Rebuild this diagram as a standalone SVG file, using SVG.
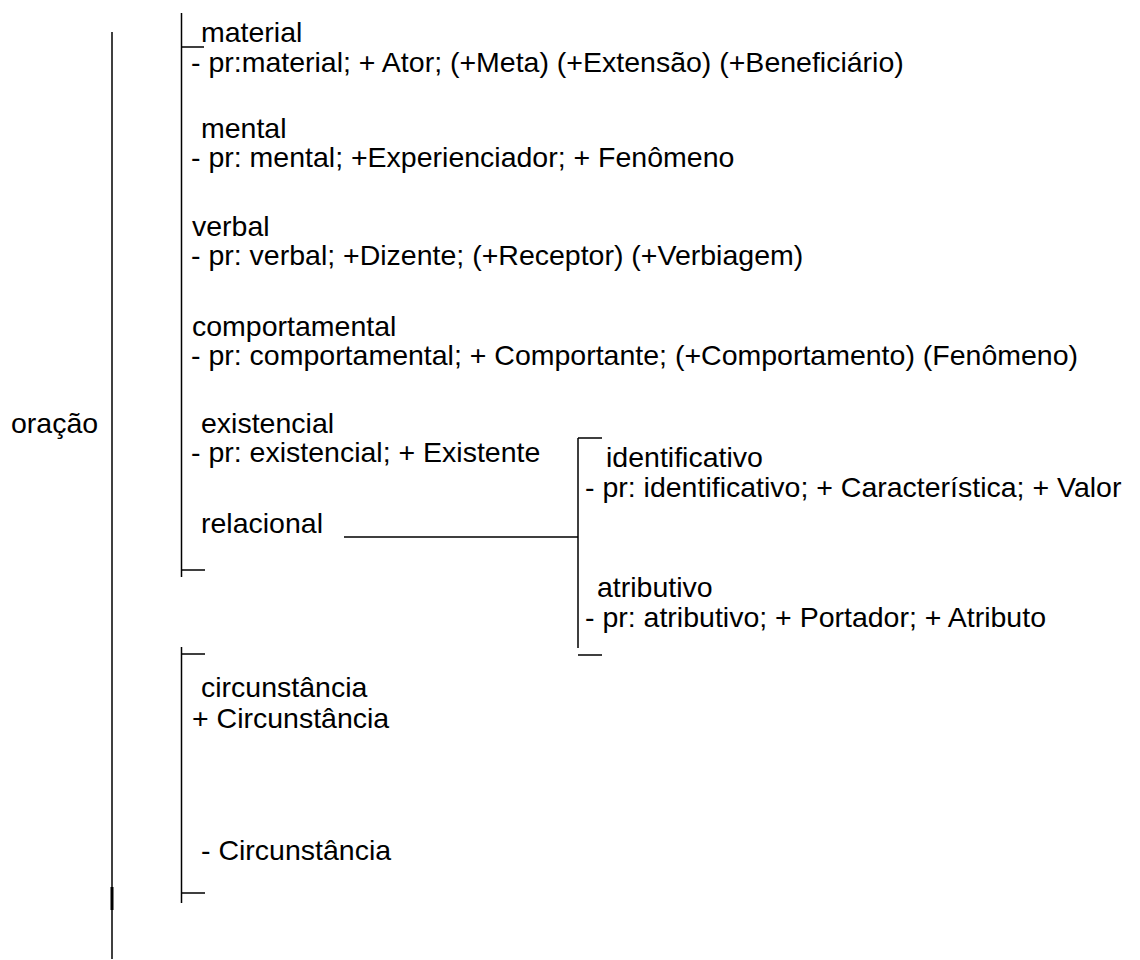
<svg xmlns="http://www.w3.org/2000/svg" width="1140" height="960" viewBox="0 0 1140 960">
<style>
text { font-family: "Liberation Sans", Arial, sans-serif; font-size: 28.5px; fill: #000; }
.ln { stroke: #000; stroke-width: 1.5; fill: none; }
</style>
<rect width="1140" height="960" fill="#fff"/>
<g id="connectors">
  <line class="ln" x1="112" y1="32" x2="112" y2="959"/>
  <line x1="112" y1="887" x2="112" y2="910" stroke="#000" stroke-width="3"/>
  <path class="ln" d="M181.5 13 V577 M181.5 47 H204 M181.5 570 H205"/>
  <path class="ln" d="M181.5 647 V903 M181.5 654 H205 M181.5 893 H205"/>
  <path class="ln" d="M578 438 V648 M578 438 H602 M578 655 H602 M344 537 H578"/>
</g>
<g id="oracao"><text x="11" y="433">oração</text></g>
<g id="material">
  <text x="201" y="42">material</text>
  <text x="191" y="72">- pr:material; + Ator; (+Meta) (+Extensão) (+Beneficiário)</text>
</g>
<g id="mental">
  <text x="201" y="138">mental</text>
  <text x="191" y="167">- pr: mental; +Experienciador; + Fenômeno</text>
</g>
<g id="verbal">
  <text x="192" y="236">verbal</text>
  <text x="191" y="265">- pr: verbal; +Dizente; (+Receptor) (+Verbiagem)</text>
</g>
<g id="comportamental">
  <text x="192" y="336">comportamental</text>
  <text x="191" y="365">- pr: comportamental; + Comportante; (+Comportamento) (Fenômeno)</text>
</g>
<g id="existencial">
  <text x="201" y="433">existencial</text>
  <text x="191" y="462">- pr: existencial; + Existente</text>
</g>
<g id="relacional"><text x="201" y="533">relacional</text></g>
<g id="identificativo">
  <text x="606" y="467">identificativo</text>
  <text x="585" y="497">- pr: identificativo; + Característica; + Valor</text>
</g>
<g id="atributivo">
  <text x="597" y="597">atributivo</text>
  <text x="585" y="627">- pr: atributivo; + Portador; + Atributo</text>
</g>
<g id="circunstancia">
  <text x="201" y="697">circunstância</text>
  <text x="192" y="728">+ Circunstância</text>
</g>
<g id="sem-circunstancia"><text x="201" y="860">- Circunstância</text></g>
</svg>
